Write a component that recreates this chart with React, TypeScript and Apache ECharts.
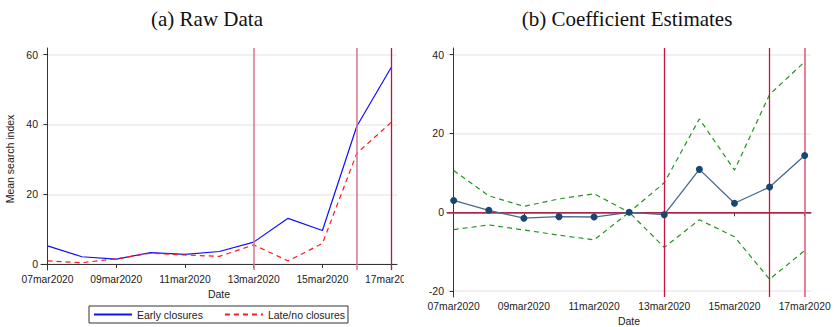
import React, { useEffect, useRef } from "react";
import * as echarts from "echarts";

// Daily observation dates (x positions are their indices)
const dates = [
  "07mar2020", "08mar2020", "09mar2020", "10mar2020", "11mar2020", "12mar2020",
  "13mar2020", "14mar2020", "15mar2020", "16mar2020", "17mar2020",
];
const dateTickIdx = [0, 2, 4, 6, 8, 10];
const eventDates = ["13mar2020", "16mar2020", "17mar2020"];

// Panel (a): mean search index
const earlyClosures = [5.2, 2.1, 1.4, 3.3, 2.8, 3.6, 6.3, 13.1, 9.6, 39.5, 56.3];
const lateClosures = [0.9, 0.4, 1.5, 3.1, 2.6, 2.2, 5.5, 0.9, 5.9, 31.7, 40.6];
const rawTicks = [0, 20, 40, 60];

// Panel (b): coefficient estimates with confidence bounds
const coefficients = [3.0, 0.5, -1.5, -1.1, -1.2, 0, -0.6, 10.9, 2.3, 6.4, 14.4];
const upperCI = [10.6, 4.2, 1.5, 3.4, 4.7, 0, 7.5, 23.7, 10.7, 29.9, 38.2];
const lowerCI = [-4.4, -3.2, -4.5, -5.8, -7.0, 0, -8.9, -1.9, -6.2, -17.0, -9.7];
const coefTicks = [-20, 0, 20, 40];

const SANS = "Liberation Sans, Arial, Helvetica, sans-serif";
const SERIF = "Liberation Serif, Times New Roman, serif";

const pairs = (vals: number[]) => vals.map((v, i) => [i, v]);

const xAxisBase = (nameGap: number) => ({
  type: "value" as const,
  min: -0.19,
  max: 10.18,
  name: "Date",
  nameLocation: "middle" as const,
  nameGap,
  nameTextStyle: { fontFamily: SANS, fontSize: 10.5, color: "#222" },
  axisLine: { show: true, lineStyle: { color: "#333", width: 1 } },
  axisTick: { show: true, length: 4, customValues: dateTickIdx, lineStyle: { color: "#333" } },
  axisLabel: {
    customValues: dateTickIdx,
    formatter: (v: number) => dates[Math.round(v)] ?? "",
    fontFamily: SANS,
    fontSize: 10.3,
    color: "#222",
    margin: 4,
  },
  splitLine: { show: false },
});

const yAxisBase = (min: number, max: number, ticks: number[]) => ({
  type: "value" as const,
  min,
  max,
  axisLine: { show: true, lineStyle: { color: "#333", width: 1 } },
  axisTick: { show: true, length: 4, customValues: ticks, lineStyle: { color: "#333" } },
  axisLabel: {
    customValues: ticks,
    fontFamily: SANS,
    fontSize: 10.5,
    color: "#222",
    margin: 3,
  },
  splitLine: { show: true, lineStyle: { color: "#ebebeb", width: 1.5 } },
});

const vLines = (colors: string[], widths: number[]) => ({
  symbol: ["none", "none"],
  silent: true,
  label: { show: false },
  data: eventDates.map((d, k) => ({
    xAxis: dates.indexOf(d),
    lineStyle: { color: colors[k], width: widths[k], type: "solid" as const },
  })),
});

function buildRaw() {
  return {
    animation: false,
    title: {
      text: "(a) Raw Data",
      left: 202,
      textAlign: "center" as const,
      top: 3,
      textStyle: { fontFamily: SERIF, fontSize: 21, fontWeight: "normal" as const, color: "#111" },
    },
    grid: { left: 41, right: 7, top: 48, bottom: 57, outerBoundsMode: "none" },
    xAxis: { ...xAxisBase(17), max: 10.17 },
    yAxis: {
      ...yAxisBase(-1.7, 61.9, rawTicks),
      name: "Mean search index",
      nameLocation: "middle" as const,
      nameGap: 25,
      nameTextStyle: { fontFamily: SANS, fontSize: 10.5, color: "#222" },
    },
    legend: {
      left: 89,
      top: 306,
      padding: [3, 3, 3, 4],
      itemGap: 21,
      itemWidth: 38,
      itemHeight: 10,
      borderColor: "#333",
      borderWidth: 1,
      borderRadius: 0,
      itemStyle: { opacity: 0 },
      textStyle: { fontFamily: SANS, fontSize: 10.5, color: "#222" },
      data: ["Early closures", "Late/no closures"],
    },
    series: [
      {
        name: "Early closures",
        type: "line",
        data: pairs(earlyClosures),
        symbol: "none",
        lineStyle: { color: "#1010ff", width: 1.2 },
        itemStyle: { color: "#1010ff" },
        markLine: vLines(["#d9748c", "#d9748c", "#b5173f"], [1.5, 1.5, 1.3]),
      },
      {
        name: "Late/no closures",
        type: "line",
        data: pairs(lateClosures),
        symbol: "none",
        lineStyle: { color: "#ff1a1a", width: 1.2, type: [5, 4] },
        itemStyle: { color: "#ff1a1a" },
      },
    ],
  };
}

function buildCoef() {
  const green = "#1f951f";
  return {
    animation: false,
    title: {
      text: "(b) Coefficient Estimates",
      left: 218,
      textAlign: "center" as const,
      top: 3,
      textStyle: { fontFamily: SERIF, fontSize: 21, fontWeight: "normal" as const, color: "#111" },
    },
    grid: { left: 43, right: 23, top: 48, bottom: 30, outerBoundsMode: "none" },
    xAxis: xAxisBase(15),
    yAxis: yAxisBase(-21.5, 41.7, coefTicks),
    series: [
      {
        name: "Upper bound",
        type: "line",
        data: pairs(upperCI),
        symbol: "none",
        lineStyle: { color: green, width: 1.2, type: [5, 4] },
        markLine: {
          symbol: ["none", "none"],
          silent: true,
          label: { show: false },
          data: [{ yAxis: 0, lineStyle: { color: "#d4244f", width: 1.5, type: "solid" as const } }],
        },
      },
      {
        name: "Lower bound",
        type: "line",
        data: pairs(lowerCI),
        symbol: "none",
        lineStyle: { color: green, width: 1.2, type: [5, 4] },
        markLine: vLines(["#c9153f", "#c9153f", "#e35479"], [1.3, 1.3, 1.5]),
      },
      {
        name: "Coefficient",
        type: "line",
        data: pairs(coefficients),
        symbol: "circle",
        symbolSize: 7,
        z: 5,
        lineStyle: { color: "#46698f", width: 1.3 },
        itemStyle: { color: "#1a476f", borderWidth: 0 },
      },
    ],
  };
}

function Panel({ width, left, build }: { width: number; left: number; build: () => any }) {
  const ref = useRef<HTMLDivElement>(null);
  useEffect(() => {
    if (!ref.current) return;
    const chart = echarts.init(ref.current, undefined, { renderer: "svg" });
    chart.setOption(build());
    return () => chart.dispose();
  }, [build]);
  return (
    <div
      ref={ref}
      style={{ position: "absolute", left, top: 0, width, height: 327, overflow: "hidden" }}
    />
  );
}

export default function App() {
  return (
    <div style={{ position: "absolute", left: 0, top: 0, width: 834, height: 327, background: "#fff" }}>
      <Panel left={0} width={404} build={buildRaw} />
      <Panel left={404} width={430} build={buildCoef} />
    </div>
  );
}
